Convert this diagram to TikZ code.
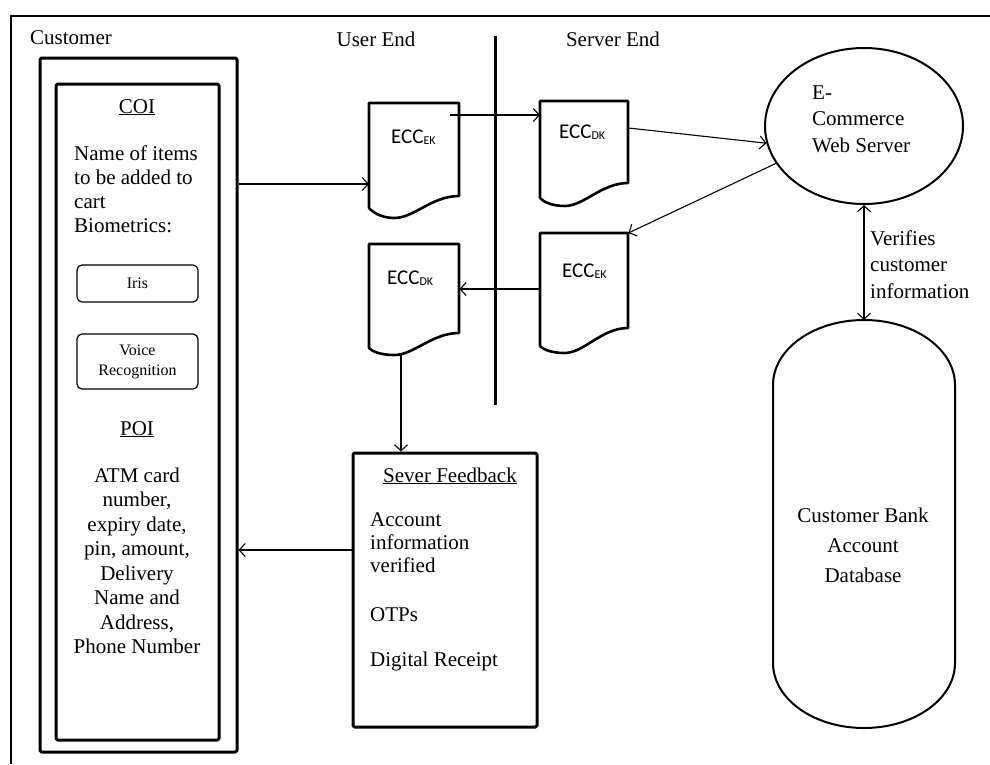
\documentclass[tikz,border=0pt]{standalone}
\usepackage{fontspec}
\setmainfont{Liberation Serif}
\newfontfamily\calfont{Carlito}
\usetikzlibrary{arrows.meta,calc,shapes.geometric}

% document symbol with a wavy lower edge:
% #1 left x, #2 top y, #3 width, #4 right bottom y, #5 lowest point y, #6 left bottom y
\newcommand\docoutline[6]{%
  \draw[docline] (#1,#6) -- (#1,#2) -- (#1+#3,#2) -- (#1+#3,#4)
    .. controls (#1+0.7*#3,#4) and (#1+0.5*#3,#5) .. (#1+0.28*#3,#5)
    .. controls (#1+0.12*#3,#5) and (#1+0.03*#3,#6+3) .. (#1,#6) -- cycle;}
% key subscript of an ECC label
\newcommand\keysub[1]{\raisebox{-1.5pt}{\fontsize{12}{12}\selectfont #1}}

\tikzset{
  heavy/.style={draw, line width=3pt, line join=round, rounded corners=1.5pt, inner sep=0pt},
  frameline/.style={line width=2.6pt},
  docline/.style={line width=2.6pt, line join=round},
  divider/.style={line width=3pt},
  conn/.style={line width=1.1pt, -{Straight Barb[length=6pt,width=13pt]}},
  biconn/.style={line width=1.1pt, {Straight Barb[length=6pt,width=13pt]}-{Straight Barb[length=6pt,width=13pt]}},
  body/.style={font=\fontsize{21}{25}\selectfont, inner sep=0pt},
  ecc/.style={font=\calfont\fontsize{21}{21}\selectfont, inner sep=0pt, anchor=base west},
  bio/.style={draw, line width=1.2pt, rounded corners=5pt, minimum width=121pt, inner sep=0pt,
              align=center, font=\fontsize{16}{20}\selectfont},
  docarea/.style={inner sep=0pt, anchor=north west},
}

\begin{document}
\begin{tikzpicture}[x=1pt,y=-1pt]
\useasboundingbox (0,0) rectangle (990,764);

% outer frame (top and left edges)
\draw[frameline] (11,764) -- (11,16) -- (990,16);

% headings
\node[body, anchor=base west] (custlbl) at (30,44) {Customer};
\node[body, anchor=base] (userend) at (376,46) {User End};
\node[body, anchor=base] (serverend) at (613,46) {Server End};

% user / server divider
\draw[divider] (495,36) -- (495,405);

% customer panel
\node[heavy, minimum width=197pt, minimum height=694pt] (cust) at (138.5,405) {};
\node[heavy, minimum width=163pt, minimum height=656pt] (inner) at (137.5,412) {};
\node[body, anchor=base] (coi) at (137,113) {\underline{COI}};
\node[body, anchor=north west, align=left, font=\fontsize{21}{24}\selectfont] (items)
  at (74,145.5) {Name of items\\to be added to\\cart\\Biometrics:};
\node[bio, minimum height=37pt] (iris) at (137.5,283.5) {Iris};
\node[bio, minimum height=55pt] (voice) at (137.5,361.5) {Voice\\Recognition};
\node[body, anchor=base] (poi) at (137,435) {\underline{POI}};
\node[body, anchor=north, align=center, font=\fontsize{21}{24.5}\selectfont] (poitext)
  at (137,467.5) {ATM card\\number,\\expiry date,\\pin, amount,\\Delivery\\Name and\\Address,\\Phone Number};

% encrypted / decrypted documents
\node[docarea, minimum width=90pt, minimum height=93pt] (d1) at (369,103) {};
\docoutline{369}{103}{90}{196}{218}{208}
\node[docarea, minimum width=88pt, minimum height=82pt] (d2) at (540,101) {};
\docoutline{540}{101}{88}{183}{206}{198}
\node[docarea, minimum width=90pt, minimum height=89pt] (d3) at (369,244) {};
\docoutline{369}{244}{90}{333}{355}{348}
\node[docarea, minimum width=88pt, minimum height=95pt] (d4) at (540,233) {};
\docoutline{540}{233}{88}{328}{353}{346}

\node[ecc] (e1) at (391,143) {ECC\keysub{EK}};
\node[ecc] (e2) at (559,138) {ECC\keysub{DK}};
\node[ecc] (e3) at (387,284) {ECC\keysub{DK}};
\node[ecc] (e4) at (562,277) {ECC\keysub{EK}};

% web server
\node[draw, ellipse, line width=2pt, minimum width=198pt, minimum height=156pt, inner sep=0pt] (ws) at (864,126) {};
\node[body, anchor=north west, align=left, font=\fontsize{21}{26.5}\selectfont] (wstext)
  at (812,85.5) {E-\\Commerce\\Web Server};

% bank database
\draw[line width=2pt] (773,385) -- (773,663)
  .. controls (773,698.9) and (813.7,728) .. (864,728)
  .. controls (914.3,728) and (955,698.9) .. (955,663)
  -- (955,385)
  .. controls (955,349.1) and (914.3,320) .. (864,320)
  .. controls (813.7,320) and (773,349.1) .. (773,385) -- cycle;
\coordinate (dbtop) at (864,320);
\node[body, anchor=north, align=center, font=\fontsize{21}{30}\selectfont] (db)
  at (863,507.5) {Customer Bank\\Account\\Database};

\node[body, anchor=north west, align=left, font=\fontsize{21}{26.5}\selectfont] (verif)
  at (870,230.5) {Verifies\\customer\\information};

% server feedback
\node[heavy, minimum width=184pt, minimum height=274pt] (fb) at (445,590) {};
\node[body, anchor=base] (fbtitle) at (450,482) {\underline{Sever Feedback}};
\node[body, anchor=north west, align=left, font=\fontsize{21}{23}\selectfont] (fbtext)
  at (370,512.5) {Account\\information\\verified\\[26pt]OTPs\\[22pt]Digital Receipt};

% connectors
\coordinate (ya) at (0,184);
\coordinate (yb) at (0,128);
\coordinate (yc) at (0,289);
\coordinate (yd) at (0,550);
\coordinate (p1) at (450,115);
\coordinate (d3tail) at (401,353);

\draw[conn] (cust.east |- ya) -- (d1.west |- ya);
\draw[conn] (p1) -- (d2.west |- p1);
\draw[conn] (d2.east |- yb) -- (ws.190);
\draw[conn] (ws.203) -- (d4.north east);
\draw[conn] (d4.west |- yc) -- (d3.east |- yc);
\draw[conn] (d3tail) -- (d3tail |- fb.north);
\draw[conn] (fb.west |- yd) -- (cust.east |- yd);
\draw[biconn] (ws.south) -- (dbtop);
\end{tikzpicture}
\end{document}
